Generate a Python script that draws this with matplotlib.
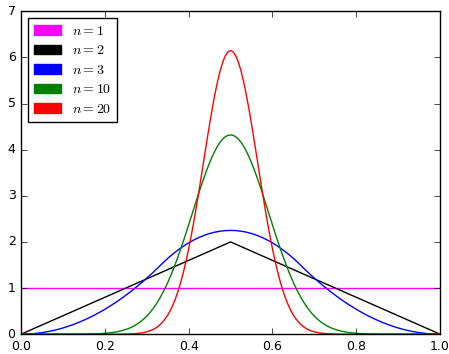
import numpy as np
import matplotlib
matplotlib.use("Agg")
import matplotlib.pyplot as plt
from matplotlib.patches import Patch

plt.style.use("classic")
plt.rcParams["mathtext.fontset"] = "cm"

# density of the mean of n uniforms, left half only (curves are symmetric about 0.5)
# n=3 read on a 0.0125 grid from x=0 to x=0.5
half_n3 = [0.0, 0.002, 0.008, 0.019, 0.034, 0.053, 0.076, 0.103, 0.135, 0.171,
           0.211, 0.255, 0.304, 0.356, 0.413, 0.475, 0.54, 0.61, 0.683, 0.761,
           0.844, 0.93, 1.021, 1.116, 1.215, 1.318, 1.426, 1.537, 1.643, 1.74,
           1.828, 1.908, 1.98, 2.043, 2.098, 2.145, 2.183, 2.212, 2.233, 2.246,
           2.25]

# n=10 and n=20: tail on a 0.0125 grid (x=0..0.2375), core on a 0.00625 grid (x=0.25..0.5)
tail_n10 = [0.0, 0.0, 0.0, 0.0, 0.0, 0.0, 0.0, 0.0, 0.0, 0.0,
            0.0, 0.0, 0.003, 0.005, 0.008, 0.012, 0.019, 0.03, 0.046, 0.069]
core_n10 = [0.102, 0.122, 0.146, 0.175, 0.207, 0.245, 0.288, 0.337, 0.392, 0.454,
            0.524, 0.602, 0.688, 0.782, 0.886, 0.998, 1.12, 1.25, 1.389, 1.537,
            1.692, 1.854, 2.022, 2.194, 2.371, 2.55, 2.729, 2.907, 3.083, 3.253,
            3.417, 3.573, 3.718, 3.851, 3.97, 4.074, 4.161, 4.23, 4.28, 4.31,
            4.32]
tail_n20 = [0.0] * 20
core_n20 = [0.003, 0.005, 0.007, 0.01, 0.014, 0.02, 0.027, 0.037, 0.051, 0.068,
            0.09, 0.119, 0.156, 0.202, 0.259, 0.329, 0.413, 0.515, 0.636, 0.778,
            0.943, 1.132, 1.347, 1.587, 1.852, 2.142, 2.454, 2.785, 3.131, 3.488,
            3.849, 4.207, 4.556, 4.888, 5.195, 5.47, 5.706, 5.896, 6.036, 6.121,
            6.15]

tri_x = [0.0, 0.5, 1.0]
tri_y = [0.0, 2.0, 0.0]
flat_x = [0.0, 1.0]
flat_y = [1.0, 1.0]

labels = [r"$n=1$", r"$n=2$", r"$n=3$", r"$n=10$", r"$n=20$"]
colors = ["magenta", "black", "blue", "green", "red"]


def mirror(hx, hy):
    hx = np.asarray(hx, dtype=float)
    hy = np.asarray(hy, dtype=float)
    return (np.concatenate([hx, 1.0 - hx[-2::-1]]),
            np.concatenate([hy, hy[-2::-1]]))


x3 = np.linspace(0, 0.5, len(half_n3))
x_tail = np.linspace(0, 0.2375, len(tail_n10))
x_core = np.linspace(0.25, 0.5, len(core_n10))
x_peak = np.concatenate([x_tail, x_core])

fig = plt.figure(figsize=(4.49, 3.54), dpi=100)
ax = fig.add_axes([0.047, 0.056, 0.933, 0.912])

ax.plot(flat_x, flat_y, color=colors[0])
ax.plot(tri_x, tri_y, color=colors[1])
ax.plot(*mirror(x3, half_n3), color=colors[2])
ax.plot(*mirror(x_peak, tail_n10 + core_n10), color=colors[3])
ax.plot(*mirror(x_peak, tail_n20 + core_n20), color=colors[4])

ax.set_xlim(0, 1)
ax.set_ylim(0, 7)
ax.tick_params(labelsize=9)

handles = [Patch(facecolor=c, edgecolor=c) for c in colors]
ax.legend(handles, labels, loc="upper left", fontsize=10, labelspacing=0.4)

fig.savefig("out.png", dpi=100)
